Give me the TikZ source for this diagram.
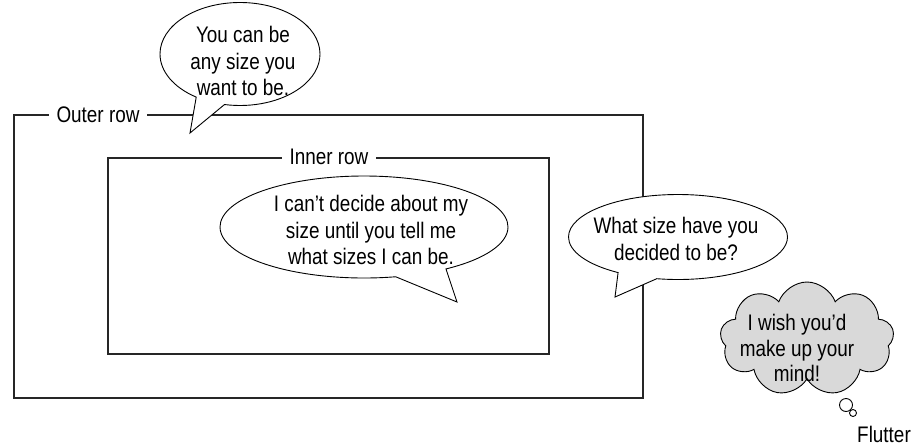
\documentclass[tikz,border=0pt]{standalone}
\usepackage{fontspec}
\setmainfont{Liberation Sans}[FakeStretch=0.84]
\usetikzlibrary{shapes.callouts,shapes.symbols}

\begin{document}
\begin{tikzpicture}[x=1pt, y=-1pt,
    every node/.style={font=\fontsize{22.5}{26.8}\selectfont},
    rowbox/.style={draw=black!85, line width=1.3pt},
    rowlabel/.style={fill=white, inner xsep=8pt, inner ysep=2pt},
    bubble/.style={ellipse callout, draw=black, line width=0.9pt, fill=white, inner sep=0pt, callout pointer arc=22},
    saying/.style={align=center, inner sep=0pt},
    puff/.style={circle, draw=black, line width=0.9pt, fill=white, inner sep=0pt}]
    \useasboundingbox (0,0) rectangle (917,445);
    % the two rows
    \draw[rowbox] (14,115) rectangle (643,398);
    \draw[rowbox] (108,158) rectangle (549,354);
    \node[rowlabel] (outerlbl) at (98,115) {Outer row};
    \node[rowlabel] (innerlbl) at (329,157) {Inner row};
    % speech bubbles
    \coordinate (toptip) at (190,133);
    \coordinate (midtip) at (457,302);
    \coordinate (righttip) at (615,297);
    \node[bubble, minimum width=160pt, minimum height=103pt, callout absolute pointer={(toptip)}] (topbub) at (240,54) {};
    \node[saying] (toptxt) at (243,61) {You can be\\any size you\\want to be.};
    \node[bubble, minimum width=288pt, minimum height=102pt, callout absolute pointer={(midtip)}] (midbub) at (364,227) {};
    \node[saying] (midtxt) at (371,230) {I can’t decide about my\\size until you tell me\\what sizes I can be.};
    \node[bubble, minimum width=219pt, minimum height=85pt, callout absolute pointer={(righttip)}] (rightbub) at (678,237) {};
    \node[saying] (righttxt) at (676,239) {What size have you\\decided to be?};
    % thought cloud
    \node[cloud, draw=black, line width=0.9pt, fill=black!15, cloud puffs=9, cloud puff arc=140, aspect=1.55,
        inner sep=0pt, minimum width=174pt, minimum height=114pt] (wish) at (807,339) {};
    \node[saying, font=\fontsize{22.5}{25.5}\selectfont] (wishtxt) at (797,348) {I wish you’d\\make up your\\mind!};
    \node[puff, minimum size=13pt] (puff1) at (846,405) {};
    \node[puff, minimum size=7pt] (puff2) at (853,413) {};
    \node (flutter) at (884,434) {Flutter};
\end{tikzpicture}
\end{document}
